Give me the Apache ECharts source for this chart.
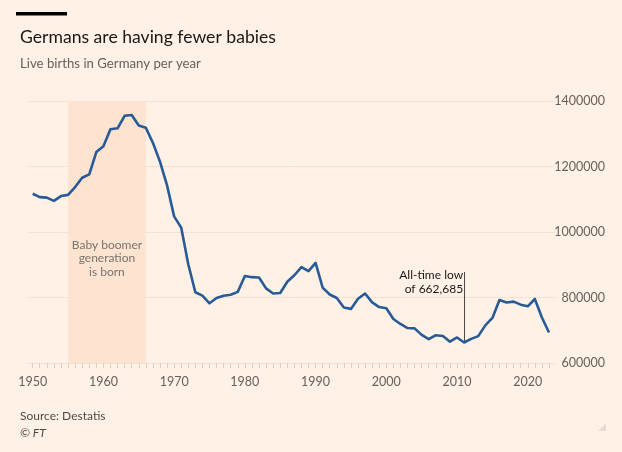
<!DOCTYPE html>
<html>
<head>
<meta charset="utf-8">
<style>
  html, body { margin: 0; padding: 0; background: #fff1e5; }
  #chart { width: 622px; height: 452px; }
</style>
<script src="https://cdn.jsdelivr.net/npm/echarts@6/dist/echarts.min.js"></script>
</head>
<body>
<div id="chart"></div>
<script>
// ---- data ----
const years = [1950,1951,1952,1953,1954,1955,1956,1957,1958,1959,
  1960,1961,1962,1963,1964,1965,1966,1967,1968,1969,
  1970,1971,1972,1973,1974,1975,1976,1977,1978,1979,
  1980,1981,1982,1983,1984,1985,1986,1987,1988,1989,
  1990,1991,1992,1993,1994,1995,1996,1997,1998,1999,
  2000,2001,2002,2003,2004,2005,2006,2007,2008,2009,
  2010,2011,2012,2013,2014,2015,2016,2017,2018,2019,
  2020,2021,2022,2023];
const births = [1116701,1106380,1105084,1095029,1109743,1113408,1137169,1165555,1175870,1243922,
  1261614,1313505,1316534,1354826,1357304,1325386,1318303,1272276,1214968,1142366,
  1047737,1013396,901657,815969,805500,782310,798334,805496,808619,817217,
  865789,862100,861275,827933,812292,813803,848232,867969,892993,880459,
  905675,830019,809114,798447,769603,765221,796013,812173,785034,770744,
  766999,734475,719250,706721,705622,685795,672724,684862,682514,665126,
  677947,662685,673544,682069,714927,737575,792141,784901,787523,778090,
  773144,795492,738819,692989];
const xLabelYears = [1950,1960,1970,1980,1990,2000,2010,2020];
const yTicks = [600000,800000,1000000,1200000,1400000];
const boomStart = 1955, boomEnd = 1966;
const lowYear = 2011, lowValue = 662685;
const labelTitle = 'Germans are having fewer babies';
const labelSub = 'Live births in Germany per year';
const labelBoom = 'Baby boomer\ngeneration\nis born';
const labelLow = 'All-time low\nof 662,685';

const FONT = 'Lato, "Noto Sans", sans-serif';
const chart = echarts.init(document.getElementById('chart'), null, {renderer: 'canvas'});

chart.setOption({
  backgroundColor: '#fff1e5',
  animation: false,
  textStyle: { fontFamily: FONT },
  title: [
    { text: labelTitle, left: 15, top: 23,
      textStyle: { fontFamily: FONT, fontSize: 17.6, fontWeight: 'normal', color: '#1a1817' } },
    { text: labelSub, left: 15, top: 52,
      textStyle: { fontFamily: FONT, fontSize: 13.2, fontWeight: 'normal', color: '#66605c' } },
    { text: 'Source: Destatis', left: 15, top: 405,
      textStyle: { fontFamily: FONT, fontSize: 12, fontWeight: 'normal', color: '#4d4845' } },
    { text: '© FT', left: 15, top: 422,
      textStyle: { fontFamily: FONT, fontSize: 12, fontWeight: 'normal', fontStyle: 'italic', color: '#4d4845' } }
  ],
  graphic: [
    { type: 'rect', shape: { x: 16, y: 12, width: 51, height: 3.5 }, style: { fill: '#000000' } },
    { type: 'polygon', shape: { points: [[606, 423], [606, 431], [598, 431]] }, style: { fill: '#e6dcd2' } }
  ],
  grid: { left: 28, right: 67, top: 101, bottom: 89 },
  xAxis: {
    type: 'value',
    min: 1949.34,
    max: 2023.85,
    axisLine: { show: false },
    splitLine: { show: false },
    axisTick: {
      show: true, length: 5, customValues: years,
      lineStyle: { color: '#dccfc2', width: 1 }
    },
    axisLabel: {
      customValues: xLabelYears, margin: 12,
      formatter: v => String(v),
      fontFamily: FONT, fontSize: 12.5, color: '#66605c'
    }
  },
  yAxis: {
    type: 'value',
    position: 'right',
    min: 600000, max: 1400000, interval: 200000,
    axisLine: { show: false },
    axisTick: { show: false },
    splitLine: { lineStyle: { color: '#f1e2d4', width: 1 } },
    axisLabel: {
      customValues: yTicks,
      align: 'right', margin: 50,
      formatter: v => String(v),
      fontFamily: FONT, fontSize: 12.5, color: '#66605c'
    }
  },
  series: [{
    type: 'line',
    data: years.map((y, i) => [y, births[i]]),
    showSymbol: false,
    symbol: 'none',
    lineStyle: { color: '#285a97', width: 2.6, join: 'round' },
    z: 5,
    markArea: {
      silent: true,
      itemStyle: { color: '#fde3d0' },
      label: {
        show: true, position: ['50%', '60%'], align: 'center', verticalAlign: 'middle',
        formatter: labelBoom, fontFamily: FONT, fontSize: 12, lineHeight: 13.5, color: '#7a726c'
      },
      data: [[{ xAxis: boomStart, yAxis: 1400000 }, { xAxis: boomEnd, yAxis: 600000 }]]
    },
    markLine: {
      silent: true, symbol: 'none', animation: false,
      lineStyle: { color: '#4d4845', width: 1, type: 'solid' },
      label: { show: false },
      data: [[{ coord: [lowYear, lowValue] }, { coord: [lowYear, 878000] }]]
    },
    markPoint: {
      silent: true, symbol: 'circle', symbolSize: 0,
      label: {
        show: true, position: 'inside', align: 'right', verticalAlign: 'middle',
        offset: [-1, 0],
        formatter: labelLow, fontFamily: FONT, fontSize: 12, lineHeight: 14, color: '#1a1817'
      },
      data: [{ coord: [lowYear, 848000] }]
    }
  }]
});
</script>
</body>
</html>
